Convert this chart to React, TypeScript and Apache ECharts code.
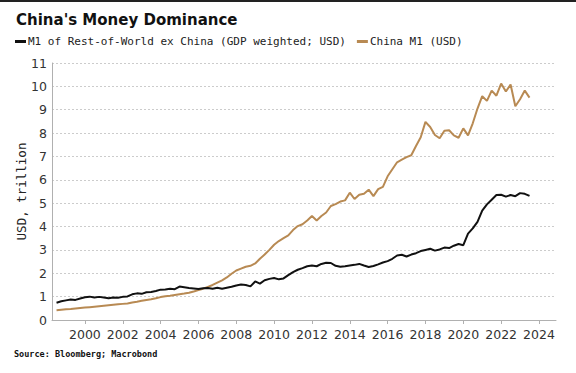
import React, { useEffect, useRef } from "react";
import * as echarts from "echarts";

const titleText = "China's Money Dominance";
const sourceText = "Source: Bloomberg; Macrobond";
const yAxisName = "USD, trillion";
const seriesNames = ["M1 of Rest-of-World ex China (GDP weighted; USD)", "China M1 (USD)"];
const xTickYears = [2000, 2002, 2004, 2006, 2008, 2010, 2012, 2014, 2016, 2018, 2020, 2022, 2024];

const dates = [
  1998.5, 1998.75, 1999.0, 1999.25, 1999.5, 1999.75, 2000.0, 2000.25, 2000.5, 2000.75,
  2001.0, 2001.25, 2001.5, 2001.75, 2002.0, 2002.25, 2002.5, 2002.75, 2003.0, 2003.25,
  2003.5, 2003.75, 2004.0, 2004.25, 2004.5, 2004.75, 2005.0, 2005.25, 2005.5, 2005.75,
  2006.0, 2006.25, 2006.5, 2006.75, 2007.0, 2007.25, 2007.5, 2007.75, 2008.0, 2008.25,
  2008.5, 2008.75, 2009.0, 2009.25, 2009.5, 2009.75, 2010.0, 2010.25, 2010.5, 2010.75,
  2011.0, 2011.25, 2011.5, 2011.75, 2012.0, 2012.25, 2012.5, 2012.75, 2013.0, 2013.25,
  2013.5, 2013.75, 2014.0, 2014.25, 2014.5, 2014.75, 2015.0, 2015.25, 2015.5, 2015.75,
  2016.0, 2016.25, 2016.5, 2016.75, 2017.0, 2017.25, 2017.5, 2017.75, 2018.0, 2018.25,
  2018.5, 2018.75, 2019.0, 2019.25, 2019.5, 2019.75, 2020.0, 2020.25, 2020.5, 2020.75,
  2021.0, 2021.25, 2021.5, 2021.75, 2022.0, 2022.25, 2022.5, 2022.75, 2023.0, 2023.25,
  2023.5,
];

const rowM1 = [
  0.74, 0.8, 0.84, 0.88, 0.86, 0.92, 0.97, 1.0, 0.96, 0.99,
  0.96, 0.93, 0.96, 0.95, 0.99, 1.01, 1.1, 1.14, 1.12, 1.19,
  1.2, 1.24, 1.3, 1.31, 1.34, 1.32, 1.43, 1.4, 1.37, 1.35,
  1.33, 1.36, 1.37, 1.34, 1.38, 1.34, 1.38, 1.42, 1.48, 1.52,
  1.5, 1.44, 1.65, 1.56, 1.7, 1.76, 1.8, 1.74, 1.78, 1.92,
  2.05, 2.15, 2.22, 2.3, 2.33, 2.3, 2.4, 2.45, 2.44, 2.32,
  2.28, 2.3, 2.33, 2.36, 2.4, 2.33, 2.27, 2.31, 2.38, 2.46,
  2.52, 2.62, 2.76, 2.79, 2.72, 2.8, 2.86, 2.95, 3.0, 3.05,
  2.97, 3.02, 3.1, 3.08, 3.18, 3.25, 3.2, 3.7, 3.92, 4.2,
  4.68, 4.95, 5.15, 5.35, 5.36, 5.28, 5.35, 5.3, 5.43, 5.4,
  5.31,
];

const chinaM1 = [
  0.42, 0.44, 0.46, 0.47, 0.49, 0.51, 0.53, 0.55, 0.57, 0.59,
  0.61, 0.63, 0.65, 0.67, 0.69, 0.71, 0.75, 0.78, 0.82, 0.86,
  0.89, 0.93, 0.98, 1.02, 1.04, 1.07, 1.1, 1.13, 1.17, 1.22,
  1.28, 1.34, 1.42, 1.5, 1.6, 1.7, 1.82, 1.98, 2.12, 2.2,
  2.28, 2.32, 2.42, 2.62, 2.8, 3.0, 3.22, 3.38, 3.5, 3.62,
  3.85, 4.02, 4.1, 4.26, 4.45, 4.26, 4.45, 4.6, 4.88, 4.96,
  5.07, 5.12, 5.45, 5.18, 5.36, 5.4, 5.58, 5.3, 5.6, 5.7,
  6.15, 6.45, 6.75, 6.86, 6.97, 7.05, 7.45, 7.82, 8.48, 8.26,
  7.92, 7.78, 8.1, 8.12, 7.9, 7.8, 8.2, 7.9, 8.42, 9.05,
  9.58, 9.38, 9.82, 9.6, 10.12, 9.78, 10.08, 9.15, 9.45, 9.82,
  9.52,
];

const BLACK = "#111111";
const GOLD = "#b88a53";
const MONO = "'DejaVu Sans Mono', monospace";
const SANS = "'DejaVu Sans', sans-serif";

export default function App() {
  const ref = useRef<HTMLDivElement>(null);
  useEffect(() => {
    if (!ref.current) return;
    const chart = echarts.init(ref.current, undefined, { renderer: "svg" });
    const pairs = (vals: number[]) => vals.map((v, i) => [dates[i], v]);
    chart.setOption({
      animation: false,
      backgroundColor: "#ffffff",
      title: {
        text: titleText,
        left: 11,
        top: 7,
        textStyle: { fontFamily: SANS, fontWeight: "bold", fontSize: 15, color: "#111" },
      },
      legend: {
        left: 10,
        top: 31,
        icon: "rect",
        itemWidth: 11,
        itemHeight: 3,
        itemGap: 11,
        selectedMode: false,
        textStyle: { fontFamily: MONO, fontSize: 11, color: "#222", padding: [0, 0, 0, -3] },
        data: seriesNames,
      },
      graphic: [
        { type: "rect", shape: { x: 0, y: 0, width: 576, height: 2 }, style: { fill: "#222" } },
        {
          type: "text",
          left: 14,
          top: 349,
          style: { text: sourceText, fontFamily: MONO, fontWeight: "bold", fontSize: 8.5, fill: "#111" },
        },
      ],
      grid: { left: 52, right: 20, top: 63, bottom: 53 },
      xAxis: {
        type: "value",
        min: 1998.26,
        max: 2024.9,
        splitLine: { show: false },
        axisLine: { show: true, lineStyle: { color: "#b0b0b0", width: 1 } },
        axisTick: { show: true, customValues: xTickYears, length: 4, lineStyle: { color: "#b0b0b0" } },
        axisLabel: {
          customValues: xTickYears,
          formatter: (v: number) => String(Math.round(v)),
          fontFamily: SANS,
          fontSize: 12.5,
          color: "#333",
          margin: 8,
        },
      },
      yAxis: {
        type: "value",
        min: 0,
        max: 11,
        interval: 1,
        name: yAxisName,
        nameLocation: "middle",
        nameGap: 24,
        nameMoveOverlap: false,
        nameTextStyle: { fontFamily: MONO, fontSize: 12.5, color: "#222" },
        axisLine: { show: true, lineStyle: { color: "#b0b0b0", width: 1 } },
        axisTick: { show: false },
        axisLabel: { fontFamily: SANS, fontSize: 12.5, color: "#333", margin: 5 },
        splitLine: { show: true, lineStyle: { color: "#cccccc", type: [2, 2], width: 1 } },
      },
      series: [
        {
          name: seriesNames[0],
          type: "line",
          data: pairs(rowM1),
          showSymbol: false,
          lineStyle: { color: BLACK, width: 2 },
          itemStyle: { color: BLACK },
          z: 3,
        },
        {
          name: seriesNames[1],
          type: "line",
          data: pairs(chinaM1),
          showSymbol: false,
          lineStyle: { color: GOLD, width: 2 },
          itemStyle: { color: GOLD },
          z: 2,
        },
      ],
    });
    return () => chart.dispose();
  }, []);
  return (
    <div
      ref={ref}
      style={{ position: "fixed", left: 0, top: 0, width: 576, height: 373, background: "#fff" }}
    />
  );
}
